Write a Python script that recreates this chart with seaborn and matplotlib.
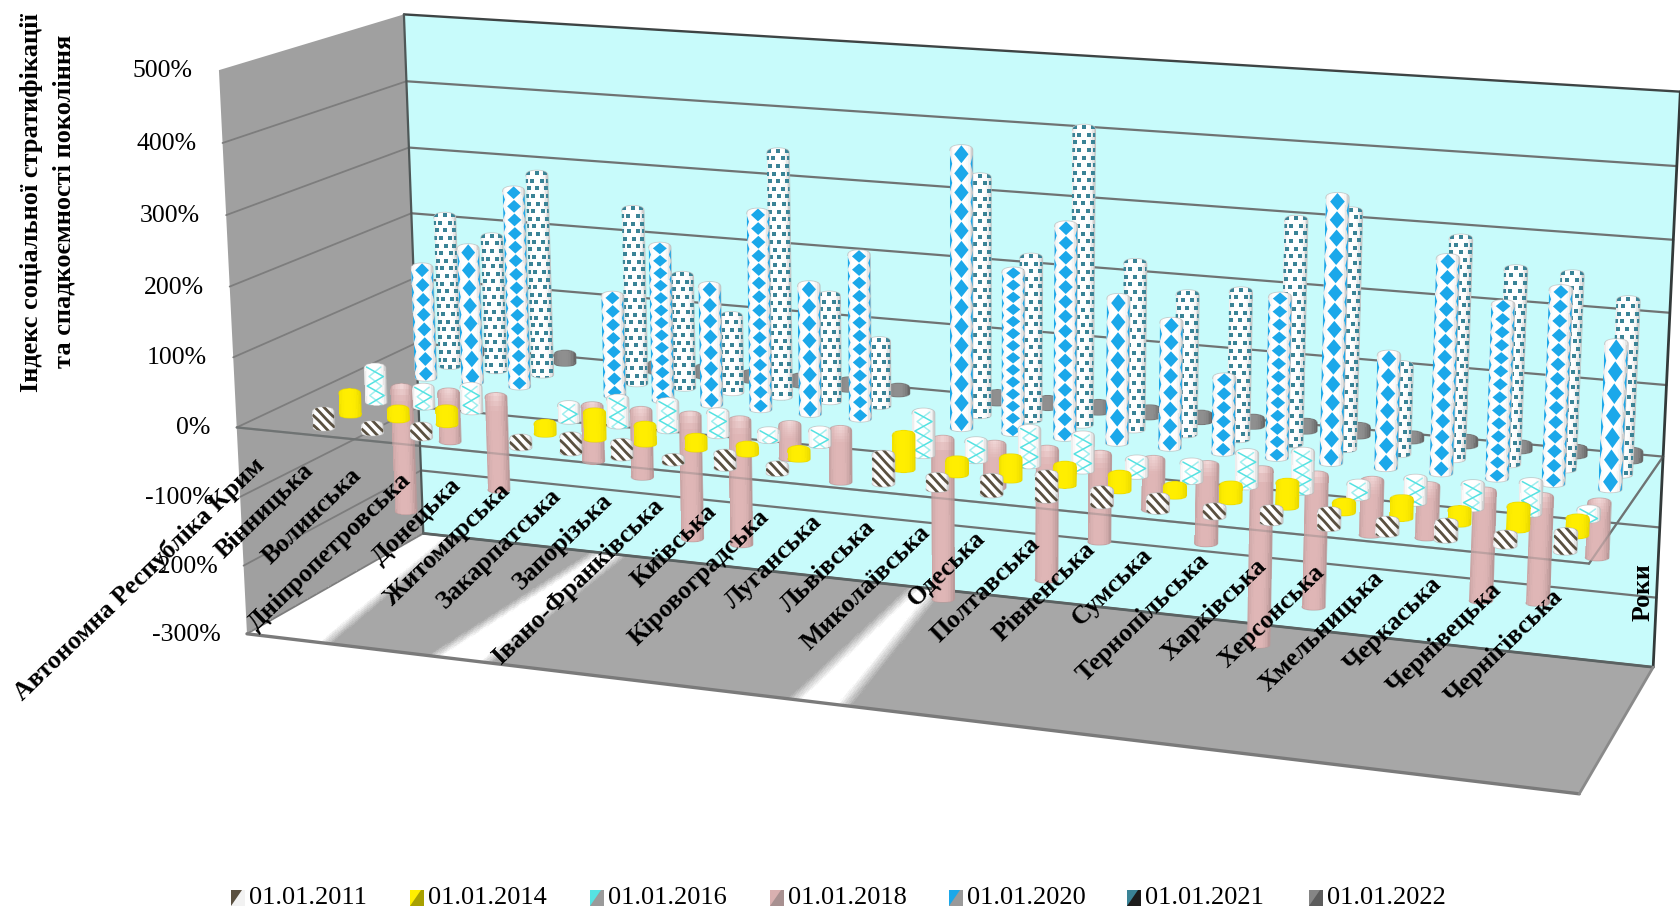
import numpy as np
import matplotlib
matplotlib.use("Agg")
import matplotlib.pyplot as plt
from matplotlib.patches import Polygon
import seaborn as sns

nan = float("nan")

regions = ["Автономна Республіка Крим", "Вінницька", "Волинська", "Дніпропетровська", "Донецька",
           "Житомирська", "Закарпатська", "Запорізька", "Івано-Франківська", "Київська",
           "Кіровоградська", "Луганська", "Львівська", "Миколаївська", "Одеська", "Полтавська",
           "Рівненська", "Сумська", "Тернопільська", "Харківська", "Херсонська", "Хмельницька",
           "Черкаська", "Чернівецька", "Чернігівська"]
dates = ["01.01.2011", "01.01.2014", "01.01.2016", "01.01.2018", "01.01.2020", "01.01.2021", "01.01.2022"]

idx_2011 = [nan, 21, 8, 13, nan, 10, 20, 18, 4, 17, 8, nan, 37, 14, 20, 32, 18, 16, 10, 15, 20, 15, 20, 12, 23]
idx_2014 = [nan, 29, 12, 19, nan, 12, 35, 23, 13, 9, 10, nan, 45, 17, 27, 24, 19, 11, 19, 30, 11, 23, 16, 28, 20]
idx_2016 = [nan, 48, 25, 33, nan, 20, 36, 38, 30, 10, 18, nan, 57, 24, 48, 46, 20, 23, 43, 52, 16, 30, 30, 40, 11]
idx_2018 = [nan, -182, -70, -135, nan, -78, -94, -177, -178, -45, -72, nan, -226, -58, -182, -120, -67, -107,
            -242, -180, -72, -68, -147, -142, -72]
idx_2020 = [nan, 162, 196, 286, nan, 144, 221, 170, 281, 183, 233, nan, 391, 226, 296, 201, 174, 103, 221, 362,
            154, 291, 235, 261, 195]
idx_2021 = [nan, 222, 197, 295, nan, 254, 163, 110, 353, 152, 92, nan, 338, 230, 416, 234, 196, 206, 311, 328,
            122, 302, 266, 265, 236]
idx_2022 = [nan, 6, 8, 10, nan, 8, 9, 7, 8, 9, 6, nan, 10, 8, 9, 8, 7, 8, 9, 10, 5, 7, 6, 7, 10]
series = [idx_2011, idx_2014, idx_2016, idx_2018, idx_2020, idx_2021, idx_2022]
ticks = [500, 400, 300, 200, 100, 0, -100, -200, -300]

# number of diamonds printed on each 2020 column
diamond_rows = [0, 8, 8, 15, 0, 8, 13, 8, 15, 8, 13, 0, 15, 14, 15, 8, 8, 6, 13, 15, 7, 14, 14, 14, 7]

sns.set_theme(style="white")
plt.rcParams["font.family"] = ["Liberation Serif", "DejaVu Serif"]
palette = sns.color_palette(["#5a5040", "#ffee00", "#55e2e2", "#d9b0b0", "#1ba8ea", "#3a8396", "#858585"])

fig = plt.figure(figsize=(16.81, 9.13), dpi=100, facecolor="white")
ax = fig.add_axes([0, 0, 1, 1])
ax.set_xlim(0, 1681)
ax.set_ylim(913, 0)
ax.axis("off")
ax.autoscale(False)

# Camera of the 3D box: (position along regions, depth, percent / 100) -> canvas pixels
box_world = np.array([[0, 0, 5], [0, 0, 0], [0, 0, -3], [0, 1, 5], [0, 1, 0], [0, 1, -3],
                      [1, 1, 5], [1, 1, 0], [1, 1, -3], [1, 0, 0], [1, 0, -3]], float)
box_canvas = np.array([[218, 72], [237, 426], [247, 632], [404, 13], [418, 343], [422, 536],
                       [1680, 92], [1663, 455], [1653, 667], [1590, 565], [1579, 794]], float)
rows = []
rhs = []
for (X, Y, Z), (px, py) in zip(box_world, box_canvas):
    rows.append([X, Y, Z, 1, 0, 0, 0, 0, -px * X, -px * Y, -px * Z])
    rows.append([0, 0, 0, 0, X, Y, Z, 1, -py * X, -py * Y, -py * Z])
    rhs += [px, py]
cam = np.linalg.lstsq(np.array(rows), np.array(rhs), rcond=None)[0]
cam = np.append(cam, 1.0).reshape(3, 4)


def project(u, w, pct):
    u, w, pct = np.broadcast_arrays(np.asarray(u, float), np.asarray(w, float), np.asarray(pct, float))
    q = np.stack([u, w, pct / 100.0, np.ones_like(u)], axis=-1)
    h = q @ cam.T
    return h[..., 0] / h[..., 2], h[..., 1] / h[..., 2]


def floor_uw(px, py):
    H = cam[:, [0, 1, 3]].copy()
    H[:, 2] += cam[:, 2] * -3
    s = np.linalg.solve(H, [px, py, 1.0])
    return s[0] / s[2], s[1] / s[2]


def quad(corners, color, z):
    xs, ys = zip(*[project(*c) for c in corners])
    ax.add_patch(Polygon(np.column_stack([xs, ys]), closed=True, facecolor=color, edgecolor="none", zorder=z))


# Walls
quad([(0, 1, 500), (1, 1, 500), (1, 1, -300), (0, 1, -300)], "#c8fbfb", 1)
quad([(0, 0, 500), (0, 1, 500), (0, 1, -300), (0, 0, -300)], "#a0a0a0", 1)

# Floor with its soft white bands
band_edges = [((230, 638), (318, 648), (415, 537), (446, 540)),
              ((443, 651), (495, 657), (590, 557), (625, 553)),
              ((800, 695), (850, 701), (912, 590), (935, 592))]
bands = []
for fl, fr, bl, br in band_edges:
    bands.append((floor_uw(*fl)[0], floor_uw(*fr)[0], floor_uw(*bl)[0], floor_uw(*br)[0]))
ug = np.linspace(0, 1, 801)
wg = np.linspace(0, 1, 61)
U, W = np.meshgrid(ug, wg)
FX, FY = project(U, W, -300 * np.ones_like(U))
uc, wc = np.meshgrid(0.5 * (ug[1:] + ug[:-1]), 0.5 * (wg[1:] + wg[:-1]))
floor_mix = np.zeros_like(uc)
for fl, fr, bl, br in bands:
    left = fl + (bl - fl) * wc
    right = fr + (br - fr) * wc
    soft = 0.011
    floor_mix = np.maximum(floor_mix, np.clip((uc - left) / soft + 0.5, 0, 1) * np.clip((right - uc) / soft + 0.5, 0, 1))
floor_grey = np.array([0.655, 0.655, 0.655])
floor_rgb = floor_grey + (1 - floor_grey) * floor_mix[..., None]
ax.pcolormesh(FX, FY, floor_rgb, shading="flat", zorder=1, antialiased=False, linewidth=0)


def edge(a, b, color="#6f7373", lw=1.6, z=2, alpha=1.0):
    xa, ya = project(*a)
    xb, yb = project(*b)
    ax.plot([xa, xb], [ya, yb], color=color, lw=lw, zorder=z, alpha=alpha, solid_capstyle="round")


for t in ticks:
    if t != 500:
        edge((0, 1, t), (1, 1, t))
        edge((0, 0, t), (0, 1, t), color="#7d7d7d", lw=1.3)
edge((0, 0, 0), (1, 0, 0))
edge((1, 0, 0), (1, 1, 0))
edge((0, 1, 500), (1, 1, 500), color="#3e4444", lw=1.7)
edge((0, 1, 500), (0, 1, -300), color="#4f5757", lw=1.6)
edge((1, 1, 500), (1, 1, -300), color="#333a3a", lw=2.0)
edge((0, 1, -300), (1, 1, -300), color="#5b6262", lw=2.0)
edge((0, 0, -300), (1, 0, -300), color="#7a7a7a", lw=2.4)
edge((1, 0, -300), (1, 1, -300), color="#8a8a8a", lw=2.0)

# How far along depth each date's row of columns stands
row_depth = [(k + 0.55) / 7 for k in range(7)]


def shading(kind):
    a = np.linspace(-1, 1, 15)
    a = 0.5 * (a[1:] + a[:-1])
    bright = np.clip(1 - np.abs(a + 0.1) ** 3, 0, 1)
    if kind == 1:
        base = np.outer(0.92 + 0.08 * bright, [1.0, 0.933, 0.0])
    elif kind == 3:
        base = np.outer(0.84 + 0.16 * bright, [0.875, 0.715, 0.715])
    elif kind == 6:
        base = np.outer(0.72 + 0.28 * bright, [0.56, 0.56, 0.56])
    else:
        base = np.outer(0.82 + 0.18 * np.clip(1 - np.abs(a + 0.1) ** 5, 0, 1), [1.0, 1.0, 1.0])
    return a, base


def column(i, k, value, z):
    u = (i + 0.5) / 25
    w = row_depth[k]
    hi, lo = max(value, 0), min(value, 0)
    xt, yt = project(u, w, hi)
    xb, yb = project(u, w, lo)
    xt, yt, xb, yb = map(float, (xt, yt, xb, yb))
    r = 11.0 + 1.0 * u
    cap_top = 6.0
    cap_bot = 3.8
    th = np.linspace(0, np.pi, 24)
    top_arc = np.column_stack([xt - r * np.cos(th), yt - cap_top * np.sin(th) ** 0.7])
    bot_arc = np.column_stack([xb + r * np.cos(th), yb + cap_bot * np.sin(th) ** 0.8])
    outline = np.vstack([top_arc, bot_arc])
    clip = Polygon(outline, closed=True, transform=ax.transData)

    # Cylinder body as a sheared mesh so shading follows the column's lean
    a, base = shading(k)
    edges_a = np.linspace(-1, 1, 15)
    ys = np.linspace(yb + cap_bot + 1, yt - cap_top - 1, 22)
    tt = (ys - yb) / (yt - yb if abs(yt - yb) > 1e-6 else 1)
    MX = np.outer(xb + (xt - xb) * tt, np.ones(15)) + np.outer(np.ones(22), edges_a * r)
    MY = np.outer(ys, np.ones(15))
    rgb = np.repeat(base[None, :, :], 21, axis=0)
    if k == 3:
        mid = 0.5 * (ys[1:] + ys[:-1])
        glow = np.clip(1 - (mid - (yt - cap_top)) / 18, 0, 1)[:, None, None]
        rgb = rgb + (np.array([1.0, 0.95, 0.95]) - rgb) * glow * 0.6 * (1 - np.abs(a))[None, :, None]
    mesh = ax.pcolormesh(MX, MY, np.clip(rgb, 0, 1), shading="flat", zorder=z, linewidth=0, antialiased=False)
    mesh.set_clip_path(clip)

    span = yb - yt
    lean = (xt - xb) / span if span else 0.0
    y_low = yb + cap_bot
    y_top = yt - cap_top

    if k == 0:
        # diagonal brown stripes
        for y0 in np.arange(y_top - 20, y_low + 6, 10.0):
            xs = np.linspace(-r, r, 12)
            yy = y0 + (xs + r) * 0.85 + 2.0 * np.sin((xs / r) * np.pi / 2)
            xc = xb + lean * (yb - yy) + xs
            line, = ax.plot(xc, yy, color=palette[0], lw=2.0, zorder=z + 0.1, solid_capstyle="butt")
            line.set_clip_path(clip)
    elif k == 2:
        # thin cyan zigzags
        per = 19.0
        yy = np.arange(y_top, y_low + per / 2, per / 2)
        for phase, amp, alpha in ((0, 0.75, 1.0), (1, 0.55, 0.55)):
            sgn = np.where((np.arange(len(yy)) + phase) % 2 == 0, -1, 1)
            xc = xb + lean * (yb - yy) + sgn * amp * r
            line, = ax.plot(xc, yy + 4, color=palette[2], lw=1.1, zorder=z + 0.1, alpha=alpha)
            line.set_clip_path(clip)
    elif k == 4:
        # blue diamonds, stretched with the column length
        n = max(diamond_rows[i], 1)
        per = (y_low - y_top) / n
        for m in range(n + 1):
            yc = y_top + per * (m + 0.5)
            xc = xb + lean * (yb - yc)
            dh = per * 0.47
            dw = 0.62 * r
            pts = [(xc, yc - dh), (xc + dw, yc), (xc, yc + dh), (xc - dw, yc)]
            p = Polygon(pts, closed=True, facecolor=palette[4], edgecolor="none", zorder=z + 0.1)
            ax.add_patch(p)
            p.set_clip_path(clip)
            yc2 = yc + per / 2
            xc2 = xb + lean * (yb - yc2)
            for sx in (-1, 1):
                pts = [(xc2 + sx * r, yc2 - dh), (xc2 + sx * 0.8 * r, yc2), (xc2 + sx * r, yc2 + dh)]
                p = Polygon(pts, closed=True, facecolor=palette[4], edgecolor="none", zorder=z + 0.1)
                ax.add_patch(p)
                p.set_clip_path(clip)
    elif k == 5:
        # staggered square dots wrapped around the column
        yy_rows = np.arange(y_top + 3, y_low + 4, 7.6)
        dx, dy = [], []
        for j, yy in enumerate(yy_rows):
            angles = np.radians([-50, 0, 50]) if j % 2 == 0 else np.radians([-77, -25, 25, 77])
            for ang in angles:
                dx.append(xb + lean * (yb - yy) + r * np.sin(ang))
                dy.append(yy)
        sns.scatterplot(x=dx, y=dy, marker="s", s=10, color=palette[5], linewidth=0, ax=ax,
                        legend=False, zorder=z + 0.1)
        ax.collections[-1].set_clip_path(clip)
        ax.set_xlabel("")
        ax.set_ylabel("")
    rim_color = {1: "#e6d500", 3: "#b99a9a", 6: "#6e6e6e"}.get(k, "#b8b8b8")
    ax.plot(outline[:, 0], outline[:, 1], color=rim_color, lw=0.6, zorder=z + 0.2, alpha=0.7)


for k in range(6, -1, -1):
    z = 10 + (6 - k) * 2
    for i, val in enumerate(series[k]):
        if not np.isnan(val):
            column(i, k, val, z)

# Front edge of the zero plane shows faintly through the columns
edge((0, 0, 0), (1, 0, 0), z=40, alpha=0.30)
edge((1, 0, 0), (1, 1, 0), z=40, alpha=0.35)

# Value axis
for t in ticks:
    x, y = project(0, 0, t)
    ax.text(float(x) - 26, float(y) + 1, f"{t}%", ha="right", va="center", fontsize=18.5, color="black", zorder=50)

# Region labels
for i, name in enumerate(regions):
    x, y = project((i + 0.5) / 25, 0, 0)
    ax.text(float(x) - 8, float(y) + 24, name, rotation=44, rotation_mode="anchor", ha="right", va="top",
            fontsize=18.6, fontweight="bold", color="black", zorder=60)

ax.text(32, 203, "Індекс соціальної стратифікації", rotation=90, ha="center", va="center",
        fontsize=19, fontweight="bold", color="black", zorder=60)
ax.text(64, 201, "та спадкоємності покоління", rotation=90, ha="center", va="center",
        fontsize=19, fontweight="bold", color="black", zorder=60)
ax.text(1643, 592, "Роки", rotation=90, ha="center", va="center", fontsize=18.5, fontweight="bold",
        color="black", zorder=60)

# Legend row
swatch_x = [231, 410, 590, 770, 949, 1127, 1309]
swatch_dark = ["#f2f2f2", "#a8a000", "#9a9a9a", "#a89090", "#9a9a9a", "#1d1d1d", "#5c5c5c"]
for sx, date, c, d in zip(swatch_x, dates, palette, swatch_dark):
    ax.add_patch(Polygon([(sx, 890), (sx + 14, 890), (sx + 14, 906), (sx, 906)], closed=True, facecolor=d,
                         edgecolor="none", zorder=50))
    ax.add_patch(Polygon([(sx, 890), (sx + 11, 890), (sx, 906)], closed=True, facecolor=c, edgecolor="none", zorder=51))
    ax.text(sx + 18, 898, date, ha="left", va="center", fontsize=19, color="black", zorder=60)

fig.savefig("out.png", dpi=100, facecolor="white")
